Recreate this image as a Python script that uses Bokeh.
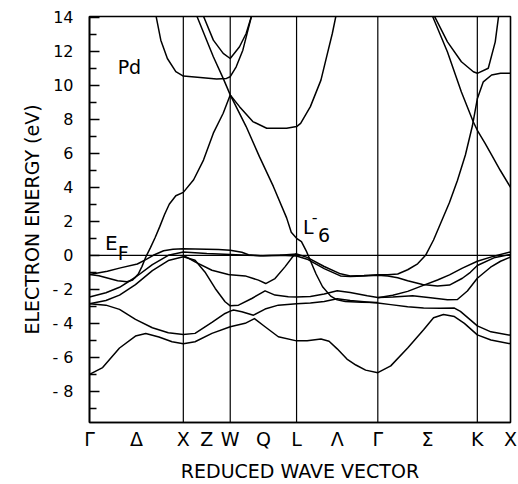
import numpy as np
from bokeh.plotting import figure
from bokeh.models import FixedTicker, Span
from bokeh.core.properties import value
from bokeh.embed import file_html
from bokeh.resources import INLINE

# high-symmetry points: distance along the path (units of 2*pi/a)
sym_k = [0.0, 1.0, 1.5, 2.2071, 3.0731, 4.1338, 4.4874]   # G X W L G K X
seg_nodes = [0, 1, 2, 3, 4, 5, 6]                        # path-segment coordinate

# x tick labels (segment coordinate)
xtick_pos = [0, 0.5, 1, 1.5, 2, 2.5, 3, 3.5, 4, 4.5, 5, 6]
xtick_labels = ["Γ", "Δ", "X", "Z", "W", "Q", "L", "Λ", "Γ", "Σ", "K", "X"]

ytick_vals = [-8, -6, -4, -2, 0, 2, 4, 6, 8, 10, 12, 14]
ytick_labels = ["- 8", "- 6", "- 4", "- 2", "0", "2", "4", "6", "8", "10", "12", "14"]
yminor_vals = [-9, -7, -5, -3, -1, 1, 3, 5, 7, 9, 11, 13]

# bands: (segment coordinate, energy eV)
band_a = [(0, -7.0), (0.14, -6.6), (0.32, -5.45), (0.49, -4.75), (0.6, -4.6), (0.74, -4.8), (0.88, -5.08), (1.0, -5.2),
          (1.25, -5.08), (1.61, -4.59), (2.0, -4.2),
          (2.225, -4.0), (2.365, -3.72), (2.525, -4.2), (2.725, -4.79), (3.0, -5.03),
          (3.13, -5.03), (3.3, -4.92), (3.4, -5.05), (3.5, -5.5), (3.62, -6.1), (3.73, -6.45), (3.85, -6.75), (4.0, -6.9),
          (4.13, -6.5), (4.3, -5.45), (4.46, -4.38), (4.56, -3.67), (4.66, -3.48), (4.77, -3.6), (4.87, -4.0), (5.0, -4.68),
          (5.41, -4.98), (6.0, -5.2)]
band_b = [(0, -2.85), (0.175, -2.93), (0.32, -3.18), (0.49, -3.77), (0.67, -4.26), (0.84, -4.55), (1.0, -4.65),
          (1.25, -4.59), (1.61, -3.95), (1.89, -3.42), (2.0, -3.28),
          (2.05, -3.22), (2.175, -3.32), (2.35, -3.52), (2.525, -3.16), (2.725, -2.93), (3.0, -2.85),
          (3.17, -2.81), (3.34, -2.71), (3.5, -2.56), (3.66, -2.66), (4.0, -2.8),
          (4.13, -2.9), (4.3, -3.02), (4.46, -3.1), (4.63, -3.12), (4.77, -3.1), (4.83, -3.3), (4.93, -3.8), (5.0, -4.15),
          (5.41, -4.5), (6.0, -4.7)]
band_c = [(0, -2.85), (0.175, -2.66), (0.32, -2.34), (0.49, -1.72), (0.67, -0.9), (0.84, -0.31), (1.0, -0.08),
          (1.25, -0.29), (1.46, -0.98), (1.68, -1.95), (1.89, -2.73), (2.0, -2.97),
          (2.125, -2.93), (2.325, -2.54), (2.525, -2.09), (2.675, -2.34), (2.875, -2.44), (3.0, -2.45),
          (3.17, -2.42), (3.34, -2.27), (3.5, -2.09), (3.66, -2.19), (3.87, -2.38), (4.0, -2.48),
          (4.15, -2.45), (4.35, -2.38), (4.53, -2.5), (4.7, -2.62), (4.8, -2.6), (4.9, -2.1), (5.0, -1.35),
          (5.4, -0.7), (5.7, -0.35), (6.0, -0.1)]
band_d = [(0, -2.45), (0.175, -2.2), (0.32, -1.88), (0.49, -1.29), (0.67, -0.55), (0.84, 0.0), (1.0, 0.2),
          (1.25, 0.15), (1.5, 0.1), (1.75, 0.07), (2.0, 0.05),
          (2.25, 0.0), (2.5, -0.02), (2.75, 0.0), (3.0, -0.04),
          (3.13, -0.23), (3.34, -0.78), (3.54, -1.21), (3.66, -1.25), (3.83, -1.22), (4.0, -1.17),
          (4.1, -1.22), (4.2, -1.32), (4.3, -1.5), (4.45, -1.72), (4.6, -1.8), (4.72, -1.75), (4.85, -1.35), (4.93, -1.0), (5.0, -0.6),
          (5.5, -0.15), (6.0, 0.05)]
band_e = [(0, -1.13), (0.1, -1.2), (0.2, -1.35), (0.3, -1.5), (0.4, -1.55), (0.46, -1.45), (0.52, -1.1), (0.56, -0.65),
          (0.6, -0.1), (0.65, 0.45), (0.7, 1.05), (0.75, 1.7), (0.8, 2.4), (0.85, 3.0), (0.92, 3.5), (1.0, 3.7),
          (1.22, 4.44), (1.43, 5.6), (1.64, 7.18), (1.85, 8.35), (2.0, 9.43),
          (2.14, 8.74), (2.34, 7.86), (2.55, 7.47), (2.85, 7.47), (3.0, 7.57),
          (3.05, 7.76), (3.17, 8.74), (3.3, 10.3), (3.38, 11.87), (3.44, 13.04), (3.49, 14.2)]
band_f = [(0, -1.13), (0.19, -0.94), (0.33, -0.74), (0.51, -0.51), (0.6, -0.25), (0.68, 0.0), (0.79, 0.27), (0.89, 0.36), (1.0, 0.38),
          (1.25, 0.37), (1.5, 0.36), (1.75, 0.34), (2.0, 0.3),
          (2.175, 0.18), (2.275, 0.03), (2.45, -0.03), (2.75, 0.0), (3.0, 0.08),
          (3.13, -0.12), (3.34, -0.66), (3.54, -1.09), (3.66, -1.21), (3.83, -1.19), (4.0, -1.15),
          (4.1, -1.15), (4.2, -1.1), (4.3, -0.85), (4.4, -0.5), (4.48, 0.0), (4.56, 0.9), (4.64, 2.0), (4.72, 3.1),
          (4.8, 4.4), (4.88, 5.9), (4.95, 7.6), (5.0, 9.2),
          (5.18, 10.2), (5.43, 10.6), (5.7, 10.7), (6.0, 10.7)]
band_g = [(1.0, 0.0), (1.25, -0.39), (1.61, -0.88), (1.96, -1.13), (2.0, -1.15),
          (2.225, -1.21), (2.425, -1.46), (2.535, -1.66), (2.675, -1.37), (2.825, -0.68), (2.95, -0.04), (3.0, 0.1)]
band_h = [(1.29, 14.05), (1.64, 11.67), (1.85, 10.4), (2.0, 9.43),
          (2.24, 7.57), (2.44, 5.8), (2.65, 4.05), (2.85, 2.2), (2.92, 1.35), (3.0, 1.0),
          (3.06, 0.8), (3.12, 0.25), (3.16, -0.2), (3.24, -1.1), (3.32, -1.85), (3.42, -2.4), (3.5, -2.62),
          (3.6, -2.72), (3.8, -2.76), (4.0, -2.78)]
band_i = [(4.0, -2.5), (4.15, -2.35), (4.3, -2.12), (4.45, -1.78), (4.6, -1.45), (4.72, -1.15), (4.85, -0.75), (5.0, -0.35),
          (5.5, -0.05), (6.0, 0.2)]
band_j = [(0.71, 14.05), (0.76, 12.65), (0.83, 11.57), (0.92, 10.8), (1.0, 10.54),
          (1.36, 10.46), (1.71, 10.36), (1.92, 10.4), (2.0, 10.5),
          (2.09, 11.08), (2.19, 12.06), (2.32, 14.05)]
band_k = [(1.43, 14.05), (1.64, 12.65), (1.85, 11.87), (2.0, 11.57), (2.14, 12.26), (2.24, 13.04), (2.32, 14.05)]
band_l = [(4.55, 14.05), (4.7, 11.95), (4.84, 9.6), (4.96, 7.84), (5.0, 7.35),
          (5.23, 6.6), (5.43, 5.9), (5.69, 5.0), (6.0, 4.0)]
band_m = [(4.57, 14.05), (4.7, 12.55), (4.84, 11.38), (4.96, 10.79), (5.0, 10.7), (5.33, 11.0), (5.54, 12.55), (5.64, 14.05)]

bands = [band_a, band_b, band_c, band_d, band_e, band_f, band_g, band_h, band_i, band_j, band_k, band_l, band_m]

# text labels (data coordinates)
notes_text = ["Pd", "E", "F", "L", "6", "-"]
notes_x = [0.30, 0.165, 0.30, 2.276, 2.436, 2.37]
notes_y = [11.05, 0.73, 0.12, 1.66, 1.20, 2.25]
notes_size = ["19px", "20px", "19px", "19px", "19px", "16px"]

FONT = "DejaVu Sans"


def to_k(pos):
    return np.interp(pos, seg_nodes, sym_k)


p = figure(width=518, height=484, x_range=(0, sym_k[-1]), y_range=(-9.83, 14.04),
           output_backend="svg", toolbar_location=None,
           min_border_left=89, min_border_right=8, min_border_top=16, min_border_bottom=61)
p.grid.visible = False
p.outline_line_color = "black"
p.outline_line_width = 1.6
p.background_fill_color = "white"
p.border_fill_color = "white"

# symmetry lines and Fermi level
for kk in sym_k[1:-1]:
    p.add_layout(Span(location=kk, dimension="height", line_color="black", line_width=1.2))
p.add_layout(Span(location=0, dimension="width", line_color="black", line_width=1.2))

for b in bands:
    pos = np.array([t[0] for t in b])
    e = np.array([t[1] for t in b])
    p.line(to_k(pos), e, line_color="black", line_width=1.5, line_join="round")

for t, x, y, s in zip(notes_text, notes_x, notes_y, notes_size):
    p.text(x=[x], y=[y], text=[t], text_font=value(FONT), text_font_size=value(s),
           text_color="black", text_align="left", text_baseline="alphabetic")

# y axis
xt = [round(float(v), 4) for v in to_k(np.array(xtick_pos, dtype=float))]
p.yaxis.ticker = FixedTicker(ticks=ytick_vals, minor_ticks=yminor_vals)
p.yaxis.major_label_overrides = {v: l for v, l in zip(ytick_vals, ytick_labels)}
p.yaxis.major_tick_in = 10
p.yaxis.major_tick_out = 0
p.yaxis.minor_tick_in = 7
p.yaxis.minor_tick_out = 0
p.yaxis.major_tick_line_width = 1.3
p.yaxis.minor_tick_line_width = 1.3
p.yaxis.major_label_standoff = 16
p.yaxis.axis_label = "ELECTRON ENERGY (eV)"
p.yaxis.axis_label_standoff = 6

# x axis
p.xaxis.ticker = FixedTicker(ticks=xt, minor_ticks=[])
p.xaxis.major_label_overrides = {v: l for v, l in zip(xt, xtick_labels)}
p.xaxis.major_tick_in = 0
p.xaxis.major_tick_out = 0
p.xaxis.major_label_standoff = 5
p.xaxis.axis_label = "REDUCED WAVE VECTOR"
p.xaxis.axis_label_standoff = 7

for ax in (p.xaxis, p.yaxis):
    ax.axis_line_color = "black"
    ax.axis_line_width = 1.6
    ax.major_tick_line_color = "black"
    ax.minor_tick_line_color = "black"
    ax.major_label_text_font = FONT
    ax.major_label_text_color = "black"
    ax.axis_label_text_font = FONT
    ax.axis_label_text_font_style = "normal"
    ax.axis_label_text_color = "black"
    ax.axis_label_text_font_size = "19px"
p.xaxis.major_label_text_font_size = "19px"
p.yaxis.major_label_text_font_size = "16px"

open("out.html", "w").write(file_html(p, INLINE))
